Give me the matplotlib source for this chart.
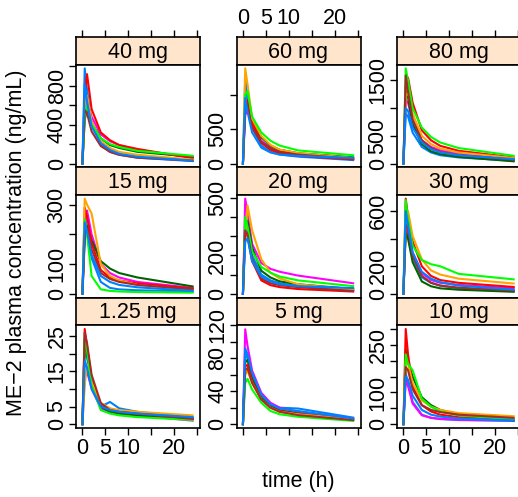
import matplotlib
matplotlib.use("Agg")
import matplotlib.pyplot as plt

plt.rcParams["font.family"] = ["Liberation Sans", "DejaVu Sans"]

# Sampling times (h)
times = [0, 0.5, 1, 2, 4, 6, 8, 12, 24]

# Plasma concentrations (ng/mL), one row per subject
conc_40mg = [
    [0, 980, 760, 420, 200, 120, 90, 60, 25],
    [0, 520, 650, 480, 300, 230, 190, 140, 60],
    [0, 450, 560, 420, 260, 190, 160, 120, 70],
    [0, 700, 920, 560, 320, 240, 190, 150, 55],
    [0, 600, 700, 430, 230, 160, 120, 90, 40],
    [0, 480, 600, 400, 260, 200, 170, 130, 80],
    [0, 550, 520, 330, 180, 120, 90, 60, 30],
    [0, 820, 640, 380, 210, 140, 100, 70, 30],
]
conc_60mg = [
    [0, 1250, 900, 520, 260, 170, 130, 100, 50],
    [0, 700, 780, 560, 330, 230, 180, 140, 70],
    [0, 900, 850, 600, 380, 260, 200, 150, 90],
    [0, 800, 920, 600, 300, 200, 150, 110, 60],
    [0, 1380, 1150, 650, 400, 270, 200, 150, 80],
    [0, 1000, 1050, 680, 450, 330, 260, 190, 120],
    [0, 850, 800, 520, 310, 220, 170, 130, 70],
    [0, 950, 750, 450, 230, 160, 130, 110, 80],
]
conc_80mg = [
    [0, 900, 850, 560, 300, 200, 150, 110, 50],
    [0, 1150, 1100, 750, 420, 300, 240, 180, 90],
    [0, 1300, 1200, 700, 350, 220, 170, 120, 40],
    [0, 1400, 1550, 1100, 600, 420, 320, 230, 110],
    [0, 1200, 1300, 900, 500, 350, 270, 200, 100],
    [0, 1720, 1500, 1000, 650, 480, 380, 280, 140],
    [0, 1590, 1300, 800, 420, 280, 210, 150, 70],
    [0, 1000, 950, 650, 380, 260, 200, 150, 80],
]
conc_15mg = [
    [0, 260, 220, 120, 40, 20, 15, 12, 8],
    [0, 220, 280, 200, 100, 70, 55, 40, 20],
    [0, 180, 230, 180, 110, 85, 70, 55, 25],
    [0, 290, 260, 170, 80, 55, 45, 35, 18],
    [0, 320, 300, 270, 100, 60, 45, 30, 12],
    [0, 250, 200, 60, 15, 10, 8, 6, 4],
    [0, 200, 220, 150, 70, 50, 40, 30, 15],
    [0, 240, 210, 130, 60, 40, 30, 22, 10],
]
conc_20mg = [
    [0, 380, 330, 200, 100, 70, 55, 40, 20],
    [0, 495, 420, 260, 160, 130, 115, 95, 55],
    [0, 350, 380, 240, 120, 85, 65, 50, 25],
    [0, 320, 300, 170, 70, 45, 35, 25, 12],
    [0, 300, 460, 330, 180, 110, 80, 50, 20],
    [0, 400, 350, 220, 140, 110, 90, 70, 40],
    [0, 330, 310, 180, 80, 55, 45, 35, 15],
    [0, 270, 290, 170, 90, 65, 50, 40, 30],
]
conc_30mg = [
    [0, 480, 420, 260, 120, 80, 60, 40, 20],
    [0, 520, 450, 300, 150, 100, 80, 65, 40],
    [0, 450, 400, 230, 90, 55, 40, 30, 15],
    [0, 690, 560, 380, 200, 130, 100, 80, 50],
    [0, 560, 600, 420, 250, 170, 140, 110, 75],
    [0, 680, 540, 350, 245, 215, 200, 145, 105],
    [0, 500, 470, 280, 130, 80, 60, 45, 25],
    [0, 600, 500, 300, 160, 110, 85, 60, 30],
]
conc_1_25mg = [
    [0, 20, 19, 11, 5, 6.3, 4.5, 3.5, 1.8],
    [0, 13.5, 15, 10, 4.5, 3.5, 3, 2.5, 1],
    [0, 24, 20, 12, 5, 3.5, 3, 2.5, 1.5],
    [0, 27, 22, 13, 5.5, 4, 3.5, 3, 1.5],
    [0, 11, 17, 12, 6, 4.5, 4, 3.5, 2.5],
    [0, 25, 21, 11, 4, 3, 2.5, 2, 1.2],
    [0, 26, 23, 14, 6, 4, 3.5, 3, 1.5],
    [0, 18, 16, 10, 5, 4, 3.5, 3, 2],
]
conc_5mg = [
    [0, 86, 80, 60, 35, 25, 20, 19, 8],
    [0, 115, 95, 65, 38, 26, 20, 15, 7],
    [0, 75, 78, 55, 32, 22, 17, 13, 5],
    [0, 70, 72, 52, 30, 20, 16, 12, 6],
    [0, 60, 65, 50, 30, 20, 15, 12, 6],
    [0, 50, 55, 42, 26, 16, 12, 9, 4],
    [0, 65, 68, 50, 30, 20, 15, 11, 5],
    [0, 92, 85, 62, 36, 24, 19, 16, 7],
]
conc_10mg = [
    [0, 160, 130, 70, 30, 20, 16, 13, 10],
    [0, 140, 120, 65, 28, 20, 17, 14, 12],
    [0, 235, 200, 150, 85, 60, 45, 30, 12],
    [0, 300, 220, 120, 60, 40, 30, 22, 14],
    [0, 200, 190, 130, 75, 55, 45, 35, 25],
    [0, 220, 190, 170, 80, 55, 40, 28, 15],
    [0, 180, 170, 110, 60, 45, 38, 30, 20],
    [0, 150, 140, 90, 45, 30, 24, 18, 12],
]

# Panel layout (top row first) with strip labels
dose_labels = [["40 mg", "60 mg", "80 mg"],
               ["15 mg", "20 mg", "30 mg"],
               ["1.25 mg", "5 mg", "10 mg"]]
panel_data = [[conc_40mg, conc_60mg, conc_80mg],
              [conc_15mg, conc_20mg, conc_30mg],
              [conc_1_25mg, conc_5mg, conc_10mg]]

# y ticks per panel and which of them carry a label
y_ticks = [[[0, 200, 400, 600, 800, 1000], [0, 500, 1000], [0, 500, 1000, 1500]],
           [[0, 100, 200, 300], [0, 100, 200, 300, 400, 500], [0, 200, 400, 600]],
           [[0, 5, 10, 15, 20, 25], [0, 20, 40, 60, 80, 100, 120],
            [0, 50, 100, 150, 200, 250, 300]]]
y_labeled = [[[0, 400, 800], [0, 500], [0, 500, 1500]],
             [[0, 100, 300], [0, 200, 500], [0, 200, 600]],
             [[0, 5, 15, 25], [0, 40, 80, 120], [0, 100, 250]]]

x_ticks = [0, 5, 10, 15, 20, 25]
x_labeled = [0, 5, 10, 20]

line_colors = ["#0080ff", "#ff00ff", "#006400", "#ff0000",
               "#ffa500", "#00ff00", "#a52a2a"]
strip_color = "#ffe5cc"

W, H = 518, 497
fig = plt.figure(figsize=(W / 100, H / 100), dpi=100)

col_left = [76, 236.5, 397]
col_w = 124
row_top0 = 37
row_h = 130.33
strip_h = 27.5
fs = 15.5
tick_len = 5
xlim = (-1.4, 25.6)


def fig_rect(x0, y0, x1, y1):
    return [x0 / W, 1 - y1 / H, (x1 - x0) / W, (y1 - y0) / H]


def fmt(v):
    return str(v)


for r in range(3):
    for c in range(3):
        x0 = col_left[c]
        top = row_top0 + r * row_h
        sax = fig.add_axes(fig_rect(x0, top, x0 + col_w, top + strip_h))
        pax = fig.add_axes(fig_rect(x0, top + strip_h, x0 + col_w, top + row_h))

        # strip
        sax.set_facecolor(strip_color)
        sax.set_xlim(xlim)
        sax.set_ylim(0, 1)
        sax.set_yticks([])
        sax.text(0.5, 0.45, dose_labels[r][c], transform=sax.transAxes,
                 ha="center", va="center", fontsize=fs, color="black")
        for sp in sax.spines.values():
            sp.set_linewidth(1.2)
        if r == 0:
            sax.set_xticks(x_ticks)
            sax.xaxis.tick_top()
            sax.tick_params(axis="x", direction="out", length=tick_len, width=1,
                            labelsize=fs, pad=1)
            if c == 1:
                sax.set_xticklabels([fmt(t) if t in x_labeled else "" for t in x_ticks])
            else:
                sax.set_xticklabels([])
        else:
            sax.set_xticks([])

        # panel
        subjects = panel_data[r][c]
        for i, conc in enumerate(subjects):
            pax.plot(times, conc, color=line_colors[i % len(line_colors)], lw=1.5)
        ymax = max(max(s) for s in subjects)
        ymin = min(min(s) for s in subjects)
        pad = 0.04 * (ymax - ymin)
        pax.set_ylim(ymin - pad, ymax + pad)
        pax.set_xlim(xlim)
        for sp in pax.spines.values():
            sp.set_linewidth(1.2)

        yt = y_ticks[r][c]
        pax.set_yticks(yt)
        pax.set_yticklabels([fmt(v) if v in y_labeled[r][c] else "" for v in yt])
        pax.tick_params(axis="y", direction="out", length=tick_len, width=1,
                        labelsize=fs, pad=1)
        for lab in pax.get_yticklabels():
            lab.set_rotation(90)
            lab.set_va("center")
            lab.set_ha("right")

        if r == 2:
            pax.set_xticks(x_ticks)
            pax.tick_params(axis="x", direction="out", length=tick_len, width=1,
                            labelsize=fs, pad=2)
            if c != 1:
                pax.set_xticklabels([fmt(t) if t in x_labeled else "" for t in x_ticks])
            else:
                pax.set_xticklabels([])
        else:
            pax.set_xticks([])

fig.text(298 / W, 1 - 481 / H, "time (h)", ha="center", va="center", fontsize=fs)
fig.text(17 / W, 1 - 243 / H, "ME\u22122 plasma concentration (ng/mL)",
         ha="center", va="center", rotation=90, fontsize=fs)

fig.savefig("out.png", dpi=100)
